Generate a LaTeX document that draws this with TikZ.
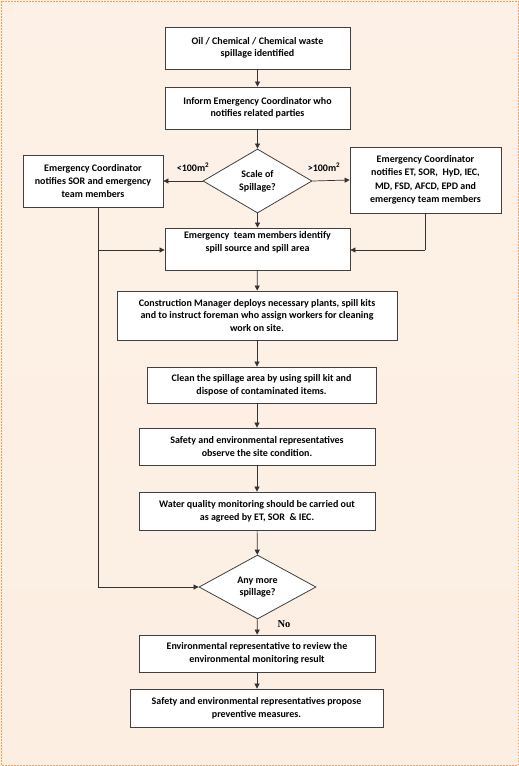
\documentclass[tikz,border=0pt]{standalone}
\usepackage{fontspec}
\setmainfont{Carlito}
\newfontfamily\noserif{Liberation Serif}
\usetikzlibrary{shapes.geometric,arrows.meta,calc}
\definecolor{peachA}{RGB}{255,255,255}
\definecolor{peachB}{RGB}{252,236,222}
\definecolor{peachC}{RGB}{248,200,170}
\definecolor{framecol}{RGB}{240,160,90}
\pgfdeclareverticalshading{bgshade}{519bp}{color(0bp)=(peachC); color(330bp)=(peachB); color(620bp)=(peachA); color(766bp)=(peachA)}
\begin{document}
\begin{tikzpicture}[x=1pt,y=-1pt,
  font=\bfseries\fontsize{10}{12.8}\selectfont,
  box/.style={draw=black!75,line width=0.8pt,fill=white,align=center,inner sep=1pt},
  decision/.style={diamond,draw=black!75,line width=0.8pt,fill=white,align=center,inner sep=0pt,aspect=1.7},
  arr/.style={-{Triangle[length=5pt,width=5pt]},draw=black!80,line width=0.7pt},
  ln/.style={draw=black!80,line width=0.7pt}]
\useasboundingbox (0,0) rectangle (519,766);
\shade[shading=bgshade] (0,0) rectangle (519,766);
\draw[framecol,dashed,dash pattern=on 1.5pt off 1.5pt,line width=1pt] (1,1) rectangle (518,765);

\node[box,minimum width=185,minimum height=42,font=\bfseries\fontsize{10}{11.5}\selectfont] (b1) at (257.5,48) {Oil / Chemical / Chemical waste\\spillage identified};
\node[box,minimum width=185,minimum height=42,font=\bfseries\fontsize{10}{11.5}\selectfont] (b2) at (257.5,108) {Inform Emergency Coordinator who\\notifies related parties};
\node[decision,minimum width=109,minimum height=64] (d1) at (257.5,181) {Scale of\\Spillage?};
\node[box,minimum width=140,minimum height=52] (L) at (93,181) {Emergency Coordinator\\notifies SOR and emergency\\team members};
\node[box,minimum width=151,minimum height=66,font=\bfseries\fontsize{10}{13.5}\selectfont] (R) at (425.5,180) {Emergency Coordinator\\notifies ET, SOR,~ HyD, IEC,\\MD, FSD, AFCD, EPD and\\emergency team members};
\node[box,minimum width=185,minimum height=42] (b3) at (257.5,249) {Emergency~ team members identify\\spill source and spill area\\[3pt]};
\node[box,minimum width=280,minimum height=49] (b4) at (257,315.5) {Construction Manager deploys necessary plants, spill kits\\and to instruct foreman who assign workers for cleaning\\work on site.};
\node[box,minimum width=229,minimum height=36] (b5) at (261.5,385) {Clean the spillage area by using spill kit and\\dispose of contaminated items.};
\node[box,minimum width=236,minimum height=37] (b6) at (257,446.5) {Safety and environmental representatives\\observe the site condition.};
\node[box,minimum width=236,minimum height=38] (b7) at (257,511) {Water quality monitoring should be carried out\\as agreed by ET, SOR~ \& IEC.};
\node[decision,minimum width=117,minimum height=64] (d2) at (257.5,587) {Any more\\spillage?};
\node[box,minimum width=236,minimum height=37] (b8) at (257,653.5) {Environmental representative to review the\\environmental monitoring result};
\node[box,minimum width=253,minimum height=38] (b9) at (256.5,708) {Safety and environmental representatives propose\\preventive measures.};

\node (lt) at (193,167) {<100m\textsuperscript{2}};
\node (gt) at (324,167) {>100m\textsuperscript{2}};
\node[font=\noserif\bfseries\fontsize{10.5}{12}\selectfont] (no) at (284,624) {No};

\coordinate (Ls) at (98,207);
\coordinate (Lb) at (98,250);
\coordinate (Ld) at (98,587);
\coordinate (Rs) at (425,213);
\coordinate (Rb) at (425,250);

\draw[arr] (b1) -- (b2);
\draw[arr] (b2) -- (d1);
\draw[arr] (d1.west) -- (L.east);
\draw[arr] (d1.east) -- (R.west);
\draw[arr] (d1.south) -- (b3.north);
\draw[ln] (Ls) -- (Ld);
\draw[arr] (Lb) -- (Lb -| b3.west);
\draw[arr] (Ld) -- (d2.west);
\draw[ln] (Rs) -- (Rb);
\draw[arr] (Rb) -- (Rb -| b3.east);
\draw[arr] (b3) -- (b4);
\draw[arr] (b4) -- (b5.north -| b4.south);
\draw[arr] (b5.south -| b6.north) -- (b6);
\draw[arr] (b6) -- (b7);
\draw[arr] (b7) -- (d2);
\draw[arr] (d2) -- (b8);
\draw[arr] (b8) -- (b8 |- b9.north);
\end{tikzpicture}
\end{document}
